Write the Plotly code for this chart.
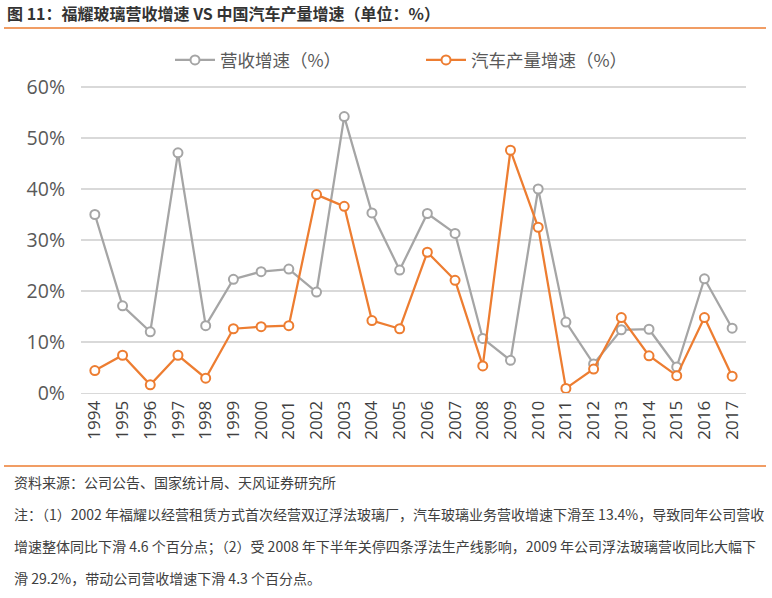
import plotly.graph_objects as go

years = [str(y) for y in range(1994, 2018)]
revenue_growth = [35.0, 17.1, 12.0, 47.1, 13.2, 22.3, 23.8, 24.3, 19.8, 54.2, 35.3, 24.1,
                  35.2, 31.3, 10.7, 6.4, 40.0, 13.9, 5.7, 12.4, 12.5, 5.1, 22.4, 12.7]
auto_growth = [4.4, 7.4, 1.6, 7.4, 2.9, 12.6, 13.0, 13.2, 38.9, 36.6, 14.2, 12.6,
               27.6, 22.1, 5.3, 47.6, 32.5, 0.9, 4.7, 14.8, 7.3, 3.4, 14.8, 3.3]
y_ticks = [0, 10, 20, 30, 40, 50, 60]
y_ticklabels = [f"{v}%" for v in y_ticks]

CJK = "Noto Sans CJK SC"
W, H = 772, 598
L, R, T, B = 81, 26, 86, 205
pw, ph = W - L - R, H - T - B

def px(x):
    return (x - L) / pw

def py(y):
    return (H - B - y) / ph

fig = go.Figure()
fig.add_trace(go.Scatter(
    x=years, y=revenue_growth, name="营收增速（%）", mode="lines+markers",
    line=dict(color="#A5A5A5", width=2.25),
    marker=dict(symbol="circle", size=9, color="white", line=dict(color="#A5A5A5", width=2)),
))
fig.add_trace(go.Scatter(
    x=years, y=auto_growth, name="汽车产量增速（%）", mode="lines+markers",
    line=dict(color="#ED7D31", width=2.25),
    marker=dict(symbol="circle", size=9, color="white", line=dict(color="#ED7D31", width=2)),
))

fig.update_layout(
    width=W, height=H,
    margin=dict(l=L, r=R, t=T, b=B, autoexpand=False),
    paper_bgcolor="white", plot_bgcolor="white",
    font=dict(family=CJK, color="#595959"),
    showlegend=True,
    legend=dict(orientation="h", x=px(170), y=py(60), xanchor="left", yanchor="middle",
                font=dict(size=17.5, color="#595959", family=CJK), entrywidth=196,
                itemwidth=40, bgcolor="rgba(0,0,0,0)"),
    xaxis=dict(type="category", range=[-0.5, len(years) - 0.5], tickangle=-90,
               tickfont=dict(size=17, color="#404040", family="Open Sans"),
               showgrid=False, showline=True, linecolor="#D9D9D9", linewidth=1, ticks="",
               zeroline=False, automargin=False),
    yaxis=dict(range=[0, 60.2], tickvals=y_ticks, ticktext=y_ticklabels,
               tickfont=dict(size=19.5, color="#595959", family="Open Sans"),
               showgrid=True, gridcolor="#D9D9D9", gridwidth=1.5, zeroline=False,
               showline=False, ticks="", ticklabelstandoff=15, automargin=False),
)

# title and decorative lines
fig.add_annotation(text="<b>图 11：福耀玻璃营收增速 VS 中国汽车产量增速（单位：%）</b>",
                   xref="paper", yref="paper", x=px(5), y=py(13), xanchor="left", yanchor="middle",
                   showarrow=False, font=dict(size=16, color="#333333", family=CJK))
fig.add_shape(type="line", xref="paper", yref="paper", x0=px(4), x1=px(766), y0=py(28), y1=py(28),
              line=dict(color="#ED7D31", width=1.5))
fig.add_shape(type="line", xref="paper", yref="paper", x0=px(4), x1=px(766), y0=py(466), y1=py(466),
              line=dict(color="#ED7D31", width=1.5))

notes = [
    "资料来源：公司公告、国家统计局、天风证券研究所",
    "注：（1）2002 年福耀以经营租赁方式首次经营双辽浮法玻璃厂，汽车玻璃业务营收增速下滑至 13.4%，导致同年公司营收",
    "增速整体同比下滑 4.6 个百分点；（2）受 2008 年下半年关停四条浮法生产线影响，2009 年公司浮法玻璃营收同比大幅下",
    "滑 29.2%，带动公司营收增速下滑 4.3 个百分点。",
]
note_y = [482, 514, 546, 578]
for t, yy in zip(notes, note_y):
    fig.add_annotation(text=t, xref="paper", yref="paper", x=px(12), y=py(yy),
                       xanchor="left", yanchor="middle", showarrow=False,
                       font=dict(size=14, color="#404040", family=CJK))

fig.write_html("out.html")
